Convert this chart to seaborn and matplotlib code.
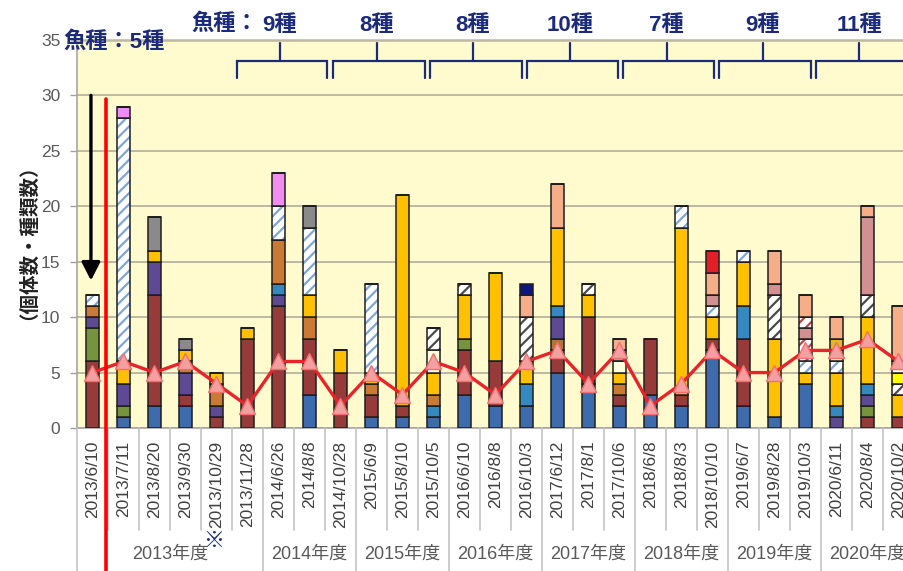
import numpy as np
import matplotlib
matplotlib.use("Agg")
import matplotlib.pyplot as plt
import seaborn as sns

# ---------------- data ----------------
dates = ["2013/6/10", "2013/7/11", "2013/8/20", "2013/9/30", "2013/10/29", "2013/11/28",
         "2014/6/26", "2014/8/8", "2014/10/28",
         "2015/6/9", "2015/8/10", "2015/10/5",
         "2016/6/10", "2016/8/8", "2016/10/3",
         "2017/6/12", "2017/8/1", "2017/10/6",
         "2018/6/8", "2018/8/3", "2018/10/10",
         "2019/6/7", "2019/8/28", "2019/10/3",
         "2020/6/11", "2020/8/4", "2020/10/2"]
year_labels = ["2013年度", "2014年度", "2015年度", "2016年度",
               "2017年度", "2018年度", "2019年度", "2020年度"]
year_sizes = [6, 3, 3, 3, 3, 3, 3, 3]

# number of species per sampling (red line)
species_count = [5, 6, 5, 6, 4, 2, 6, 6, 2, 5, 3, 6, 5, 3, 6, 7, 4, 7, 2, 4, 7, 5, 5, 7, 7, 8, 6]

first_kinds_label = "魚種：5種"
year_kinds_labels = ["9種", "8種", "8種", "10種", "7種", "9種", "11種"]

# individuals per species (stacked, bottom -> top)
sp_blue       = [0,1,2,2,0,0, 0,3,0, 1,1,1, 3,2,2, 5,4,2, 3,2,7, 2,1,4, 0,0,0]
sp_darkred    = [6,0,10,1,1,8, 11,5,5, 2,1,0, 4,4,0, 2,6,1, 5,1,1, 6,0,0, 0,1,1]
sp_brown      = [0,0,0,0,0,0, 0,0,0, 0,0,0, 0,0,0, 1,0,0, 0,0,0, 0,0,0, 0,0,0]
sp_olive      = [3,1,0,0,0,0, 0,0,0, 0,0,0, 1,0,0, 0,0,0, 0,0,0, 0,0,0, 0,1,0]
sp_purple     = [1,2,3,2,1,0, 1,0,0, 0,0,0, 0,0,0, 2,0,0, 0,0,0, 0,0,0, 1,1,0]
sp_teal       = [0,0,0,0,0,0, 1,0,0, 0,0,1, 0,0,2, 1,0,0, 0,0,0, 3,0,0, 1,1,0]
sp_orange     = [1,0,0,1,2,0, 4,2,0, 1,0,1, 0,0,0, 0,0,1, 0,0,0, 0,0,0, 0,0,0]
sp_gold       = [0,2,1,1,1,1, 0,2,2, 1,19,2, 4,8,2, 7,2,1, 0,15,2, 4,7,1, 3,6,2]
sp_pale       = [0,0,0,0,0,0, 0,0,0, 0,0,2, 0,0,0, 0,0,1, 0,0,0, 0,0,0, 0,0,0]
sp_hatch_dark = [0,0,0,0,0,0, 0,0,0, 0,0,2, 1,0,4, 0,1,0, 0,0,0, 0,4,0, 0,2,1]
sp_yellow     = [0,0,0,0,0,0, 0,0,0, 0,0,0, 0,0,0, 0,0,0, 0,0,0, 0,0,0, 0,0,1]
sp_hatch_blue = [1,22,0,0,0,0, 3,6,0, 8,0,0, 0,0,0, 0,0,0, 0,2,1, 1,0,1, 1,0,0]
sp_hatch_red  = [0,0,0,0,0,0, 0,0,0, 0,0,0, 0,0,0, 0,0,0, 0,0,0, 0,0,2, 0,0,0]
sp_light_a    = [0,0,0,0,0,0, 0,0,0, 0,0,0, 0,0,0, 0,0,0, 0,0,0, 0,0,0, 1,0,0]
sp_gold_b     = [0,0,0,0,0,0, 0,0,0, 0,0,0, 0,0,0, 0,0,0, 0,0,0, 0,0,0, 1,0,0]
sp_light_b    = [0,0,0,0,0,0, 0,0,0, 0,0,0, 0,0,0, 0,0,0, 0,0,0, 0,0,0, 0,0,1]
sp_dusty      = [0,0,0,0,0,0, 0,0,0, 0,0,0, 0,0,0, 0,0,1, 0,0,1, 0,1,1, 0,7,0]
sp_hatch_red2 = [0,0,0,0,0,0, 0,0,0, 0,0,0, 0,0,0, 0,0,0, 0,0,0, 0,0,1, 0,0,0]
sp_grey       = [0,0,3,1,0,0, 0,2,0, 0,0,0, 0,0,0, 0,0,0, 0,0,0, 0,0,0, 0,0,0]
sp_pink       = [0,1,0,0,0,0, 3,0,0, 0,0,0, 0,0,0, 0,0,0, 0,0,0, 0,0,0, 0,0,0]
sp_salmon     = [0,0,0,0,0,0, 0,0,0, 0,0,0, 0,0,2, 4,0,1, 0,0,2, 0,3,2, 2,1,5]
sp_red        = [0,0,0,0,0,0, 0,0,0, 0,0,0, 0,0,0, 0,0,0, 0,0,2, 0,0,0, 0,0,0]
sp_navy       = [0,0,0,0,0,0, 0,0,0, 0,0,0, 0,0,1, 0,0,0, 0,0,0, 0,0,0, 0,0,0]

# (values, face colour, hatch, hatch colour)
layers = [
    (sp_blue, "#3D6BAE", None, None),
    (sp_darkred, "#973A3A", None, None),
    (sp_brown, "#B5733A", None, None),
    (sp_olive, "#78933D", None, None),
    (sp_purple, "#5E4A94", None, None),
    (sp_teal, "#3688C0", None, None),
    (sp_orange, "#CB7A35", None, None),
    (sp_gold, "#FFC000", None, None),
    (sp_pale, "#FFFFDD", None, None),
    (sp_hatch_dark, "white", "///", "#4A4A4A"),
    (sp_yellow, "#FFFF00", None, None),
    (sp_hatch_blue, "white", "///", "#7FA6D6"),
    (sp_hatch_red, "white", "///", "#B5474A"),
    (sp_light_a, "#FFF59A", None, None),
    (sp_gold_b, "#EDB21E", None, None),
    (sp_light_b, "#FFFFDD", None, None),
    (sp_dusty, "#D39090", None, None),
    (sp_hatch_red2, "white", "///", "#B5474A"),
    (sp_grey, "#8A8A8A", None, None),
    (sp_pink, "#F28CF0", None, None),
    (sp_salmon, "#F5AE88", None, None),
    (sp_red, "#E31E24", None, None),
    (sp_navy, "#0B1680", None, None),
]

# ---------------- style ----------------
sns.set_theme(style="white")
plt.rcParams["font.family"] = ["Liberation Sans", "Noto Sans CJK JP", "DejaVu Sans"]
plt.rcParams["hatch.linewidth"] = 1.6

W, H = 904, 571
fig = plt.figure(figsize=(W / 100, H / 100), dpi=100)
fig.patch.set_facecolor("white")
ax_rect = [77 / W, 1 - 428 / H, 1 - 77 / W, 388 / H]
ax = fig.add_axes(ax_rect)
ax.set_facecolor("#FFFBCF")

NAVY = "#1B2A7B"
EDGE = "#1E1E1E"
GRID = "#BDB8A2"
BAR_W = 0.42
XMAX = 26.18

bottom = np.zeros(len(dates))
for vals, face, hatch, hcol in layers:
    v = np.array(vals, dtype=float)
    if hatch:
        sns.barplot(x=dates, y=v, order=dates, color=face, saturation=1, width=BAR_W,
                    errorbar=None, bottom=bottom, hatch=hatch, edgecolor=hcol,
                    linewidth=0, ax=ax, zorder=3)
        sns.barplot(x=dates, y=v, order=dates, color=EDGE, fill=False, saturation=1,
                    width=BAR_W, errorbar=None, bottom=bottom, linewidth=1.1,
                    ax=ax, zorder=3)
    else:
        sns.barplot(x=dates, y=v, order=dates, color=face, saturation=1, width=BAR_W,
                    errorbar=None, bottom=bottom, edgecolor=EDGE, linewidth=1.1,
                    ax=ax, zorder=3)
    bottom = bottom + v

sns.lineplot(x=dates, y=species_count, sort=False, color="#E8232A", linewidth=2.4,
             marker="^", markersize=11, markerfacecolor="#F4A0A0",
             markeredgecolor="#F07070", markeredgewidth=1.0, ax=ax, zorder=6)

ax.set_ylim(0, 35)
ax.set_xlim(-0.5, XMAX)
ax.set_yticks(range(0, 36, 5))
ax.set_axisbelow(True)
ax.yaxis.grid(True, color=GRID, linewidth=1.4)
ax.xaxis.grid(False)
ax.set_xlabel("")
ax.set_ylabel("")
ax.tick_params(axis="x", bottom=False, labelbottom=False)
ax.tick_params(axis="y", left=True, length=5, width=1, color="#A0A0A0",
               labelcolor="#595959", labelsize=12.5, pad=7)
for s in ["right"]:
    ax.spines[s].set_visible(False)
ax.spines["top"].set_color(GRID)
ax.spines["top"].set_linewidth(1.8)
ax.spines["left"].set_color("#A6A6A6")
ax.spines["bottom"].set_color("#A6A6A6")
ax.spines["left"].set_linewidth(1.2)
ax.spines["bottom"].set_linewidth(1.2)

# ---------------- overlay for annotations (numeric coords) ----------------
ax2 = fig.add_axes(ax_rect)
ax2.set_xlim(-0.5, XMAX)
ax2.set_ylim(0, 35)
ax2.set_facecolor("none")
ax2.axis("off")

# category separators and x labels
bounds = np.cumsum([0] + year_sizes) - 0.5
for k in range(len(dates) + 1):
    xb = k - 0.5
    is_year = np.any(np.isclose(bounds, xb))
    ax2.plot([xb, xb], [0, -12.9 if is_year else -9.2], color="#C4C4C4",
             lw=1.2, clip_on=False, zorder=1)
for i, d in enumerate(dates):
    ax2.text(i, -1.15, d, rotation=90, ha="center", va="top", fontsize=12.5,
             color="#404040")
starts = np.cumsum([0] + year_sizes[:-1])
for s, n, lab in zip(starts, year_sizes, year_labels):
    ax2.text(s + (n - 1) / 2, -11.4, lab, ha="center", va="center",
             fontsize=13, color="#595959")
ax2.text(3.92, -10.2, "※", ha="center", va="center", fontsize=15,
         fontweight="bold", color=NAVY)

# y axis title
fig.text(18 / W, 1 - 232 / H, "（個体数・種類数）", rotation=90, ha="center",
         va="center", fontsize=14, fontweight="bold", color="#222222")

# species-per-year brackets
brackets = [(4.66, 7.56, 6.05), (7.76, 10.73, 9.18), (10.89, 13.85, 12.27),
            (14.02, 16.95, 15.40), (17.11, 20.05, 18.53), (20.21, 23.18, 21.63),
            (23.34, 26.6, 24.73)]
y_h, y_end, y_top = 33.1, 31.57, 34.73
for (l, r, c), lab in zip(brackets, year_kinds_labels):
    ax2.plot([l, l, r, r], [y_end, y_h, y_h, y_end], color=NAVY, lw=1.6,
             clip_on=False, solid_joinstyle="miter", zorder=7)
    ax2.plot([c, c], [y_h, y_top], color=NAVY, lw=1.6, zorder=7)
    ax2.text(c, 36.35, lab, ha="center", va="center", fontsize=16,
             fontweight="bold", color=NAVY)
ax2.text(5.35, 36.45, "魚種：", ha="right", va="center", fontsize=16,
         fontweight="bold", color=NAVY)
ax2.text(-0.93, 34.85, first_kinds_label, ha="left", va="center", fontsize=16,
         fontweight="bold", color=NAVY)

# black arrow and red separator line
ax2.annotate("", xy=(-0.05, 13.3), xytext=(-0.05, 30.0),
             arrowprops=dict(arrowstyle="-|>,head_length=0.55,head_width=0.28",
                             color="black", lw=2.4, shrinkA=0, shrinkB=0,
                             mutation_scale=20),
             zorder=8)
ax2.plot([0.42, 0.42], [29.7, -13.5], color="#FF0000", lw=2.6, clip_on=False,
         zorder=9)

fig.savefig("out.png", dpi=100, facecolor="white")
